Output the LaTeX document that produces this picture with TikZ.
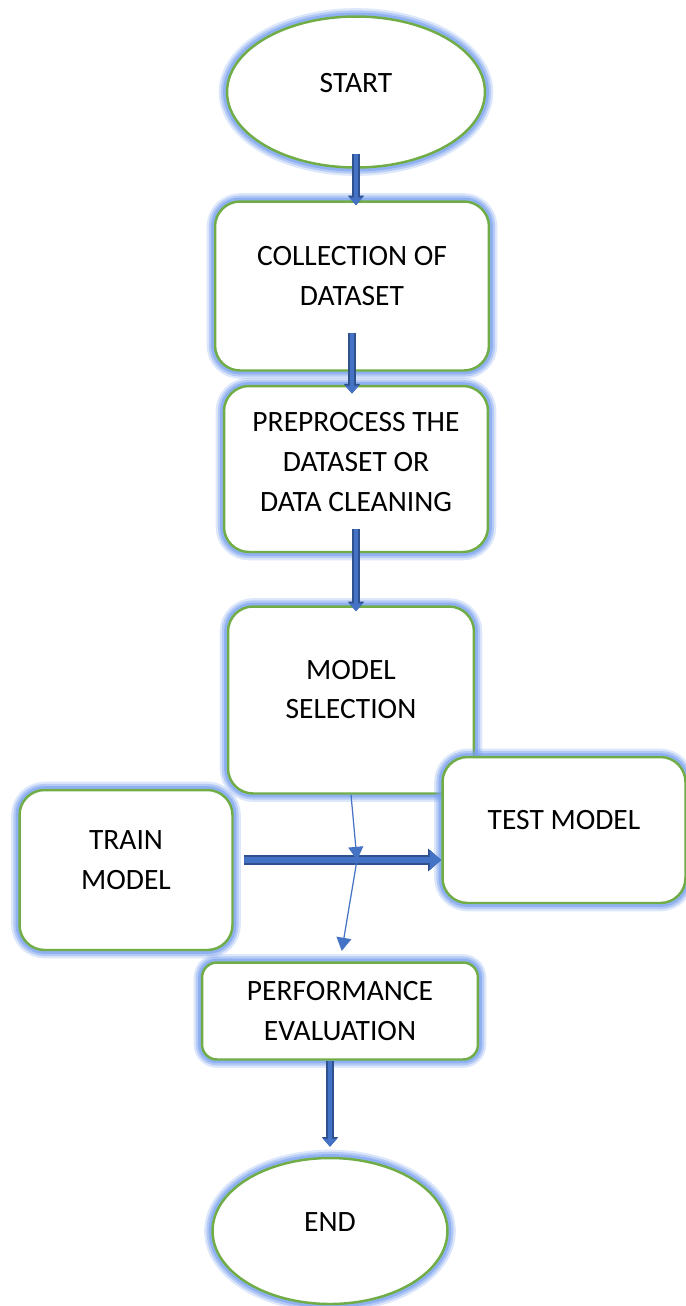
\documentclass[tikz,border=0pt]{standalone}
\usepackage{fontspec}
\setmainfont{Carlito}
\usetikzlibrary{arrows.meta,calc,shapes.geometric}

\definecolor{boxgreen}{RGB}{112,173,71}
\definecolor{glowblue}{RGB}{120,160,238}
\definecolor{arrblue}{RGB}{68,114,196}
\definecolor{arrdark}{RGB}{47,82,143}

\begin{document}
\begin{tikzpicture}[
    x=0.02cm, y=-0.02cm,
    font=\fontsize{16.8}{22.7}\selectfont,
    line join=round,
    glow/.style={
        preaction={draw=glowblue, line width=9.5pt, opacity=0.25},
        preaction={draw=glowblue, line width=7pt, opacity=0.4},
        preaction={draw=glowblue, line width=4.5pt, opacity=0.6}},
    terminal/.style={ellipse, draw=boxgreen, line width=1.4pt, fill=white, glow,
        inner sep=0pt, text depth=10pt},
    stepbox/.style={rectangle, rounded corners=0.5cm, draw=boxgreen, line width=1.4pt,
        fill=white, glow, align=center, inner sep=2pt},
    textup/.style={text depth=#1},
    blockflow/.style={draw=arrblue, line width=2.2pt, -{Triangle[length=4.5pt, width=7.5pt]},
        preaction={draw=arrdark, line width=4.4pt, -{Triangle[length=5.5pt, width=9pt]}}},
    wideflow/.style={draw=arrblue, line width=3.2pt, -{Triangle[length=6.5pt, width=11pt]},
        preaction={draw=arrdark, line width=5.7pt, -{Triangle[length=7.5pt, width=12.5pt]}}},
    thinflow/.style={draw=arrblue, line width=0.7pt, -{Triangle[length=7.5pt, width=8.5pt]}}
]
\useasboundingbox (0,0) rectangle (686,1306);

% Steps
\node[terminal, minimum width=5.16cm, minimum height=3.02cm] (start) at (356,92) {START};
\node[stepbox, textup=11pt, minimum width=5.48cm, minimum height=3.38cm] (collect) at (352,286)
    {COLLECTION OF\\DATASET};
\node[stepbox, textup=8pt, minimum width=5.28cm, minimum height=3.32cm] (prep) at (356,469)
    {PREPROCESS THE\\DATASET OR\\DATA CLEANING};
\node[stepbox, textup=12pt, minimum width=4.92cm, minimum height=3.74cm] (model) at (351,700)
    {MODEL\\SELECTION};
\node[stepbox, textup=11pt, minimum width=4.26cm, minimum height=3.2cm] (train) at (126,870)
    {TRAIN\\MODEL};
\node[stepbox, textup=11pt, minimum width=4.86cm, minimum height=2.92cm] (test) at (564,830)
    {TEST MODEL};
\node[stepbox, rounded corners=0.3cm, minimum width=5.52cm, minimum height=1.94cm] (perf) at (340,1011)
    {PERFORMANCE\\EVALUATION};
\node[terminal, minimum width=4.7cm, minimum height=2.92cm] (end) at (330,1231) {END};

% Main flow
\draw[blockflow, shorten <=-8.5pt, shorten >=-2.8pt] (start.south) -- (start.south |- collect.north);
\draw[blockflow, shorten <=-22pt, shorten >=-5pt] (collect.south) -- (collect.south |- prep.north);
\draw[blockflow, shorten <=-13.6pt, shorten >=-3.4pt] (prep.south) -- (prep.south |- model.north);
\draw[blockflow, shorten >=5.7pt] (end.north |- perf.south) -- (end.north);

% Train -> test, model -> evaluation
\coordinate (cross) at (357,860);
\draw[wideflow, shorten <=5.7pt] (train.east |- cross) -- (test.west |- cross);
\draw[thinflow] (model.south) -- (cross);
\draw[thinflow, shorten >=6pt] (cross) -- (perf.north);

\end{tikzpicture}
\end{document}
